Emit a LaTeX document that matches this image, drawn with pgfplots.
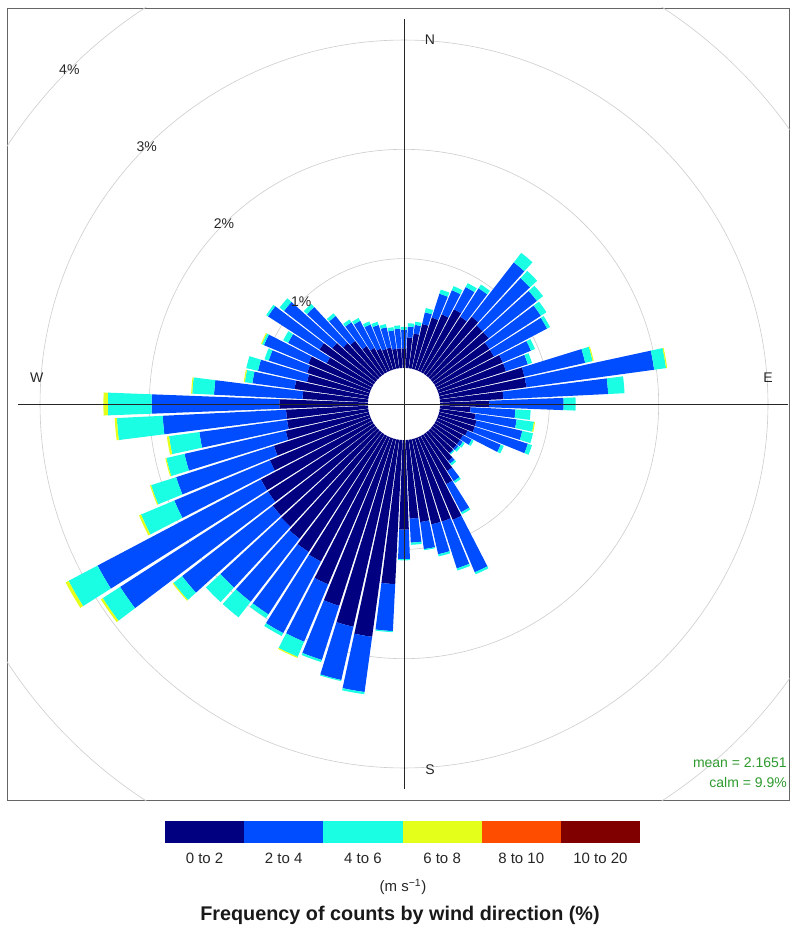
\documentclass[border=0pt]{standalone}
\usepackage{fontspec}
\setmainfont{Liberation Sans}
\usepackage{pgfplots}
\usepackage{pgfplotstable}
\pgfplotsset{compat=1.18}

\definecolor{cA}{HTML}{000080}
\definecolor{cB}{HTML}{004DFF}
\definecolor{cC}{HTML}{1AFFE3}
\definecolor{cD}{HTML}{E3FF1A}
\definecolor{cE}{HTML}{FF4D00}
\definecolor{cF}{HTML}{800000}
\definecolor{txtgreen}{HTML}{2E9A2E}

% cumulative percentages by speed class: a = 0-2, b = 2-4, c = 4-6, d = 6-8
\pgfplotstableread{
dir a b c d
0 0.18 0.35 0.375 0.375
5 0.28 0.38 0.41 0.41
10 0.32 0.40 0.43 0.43
15 0.42 0.53 0.57 0.57
20 0.50 0.73 0.77 0.77
25 0.56 0.80 0.84 0.84
30 0.65 0.88 0.92 0.92
35 0.62 0.93 0.97 0.97
40 0.68 1.31 1.42 1.42
45 0.65 1.24 1.33 1.33
50 0.65 1.21 1.28 1.28
55 0.60 1.16 1.22 1.22
60 0.60 1.15 1.18 1.18
65 0.65 0.93 0.97 0.97
70 0.65 0.86 0.90 0.90
75 0.80 1.37 1.44 1.45
80 0.80 1.98 2.09 2.10
85 0.58 1.54 1.69 1.69
90 0.45 1.13 1.24 1.24
95 0.28 0.69 0.83 0.83
100 0.33 0.71 0.87 0.88
105 0.35 0.78 0.88 0.88
110 0.35 0.86 0.90 0.90
115 0.30 0.63 0.66 0.66
120 0.28 0.37 0.39 0.39
125 0.28 0.31 0.33 0.33
130 0.28 0.30 0.32 0.32
135 0.28 0.29 0.30 0.30
140 0.33 0.36 0.38 0.38
145 0.40 0.51 0.53 0.53
150 0.50 0.79 0.81 0.81
155 0.82 1.34 1.36 1.36
160 0.80 1.25 1.27 1.27
165 0.80 1.08 1.10 1.10
170 0.76 1.01 1.02 1.02
175 0.72 0.94 0.96 0.96
180 0.82 1.09 1.10 1.10
185 1.32 1.75 1.76 1.76
190 1.82 2.33 2.35 2.35
195 1.76 2.26 2.27 2.27
200 1.61 2.13 2.15 2.15
205 1.46 2.03 2.18 2.19
210 1.30 2.04 2.07 2.07
215 1.28 1.96 2.00 2.00
220 1.23 1.96 2.14 2.14
225 1.20 1.96 2.14 2.14
230 1.19 2.24 2.34 2.35
235 1.15 2.76 2.95 2.97
240 1.15 2.84 3.14 3.17
245 1.00 1.95 2.28 2.30
250 0.92 1.86 2.10 2.11
255 0.78 1.73 1.90 1.91
260 0.75 1.56 1.84 1.86
265 0.75 1.88 2.30 2.32
270 0.81 1.98 2.38 2.42
275 0.60 1.41 1.61 1.62
280 0.68 1.07 1.14 1.15
285 0.58 1.04 1.15 1.15
290 0.60 0.97 1.01 1.01
295 0.62 1.06 1.08 1.09
300 0.47 0.87 0.92 0.92
305 0.59 1.15 1.17 1.17
310 0.50 1.06 1.11 1.11
315 0.43 0.88 0.92 0.92
320 0.40 0.69 0.72 0.72
325 0.30 0.56 0.59 0.59
330 0.25 0.53 0.56 0.56
335 0.22 0.46 0.49 0.49
340 0.20 0.43 0.46 0.46
345 0.20 0.39 0.42 0.42
350 0.18 0.35 0.38 0.38
355 0.18 0.36 0.39 0.39
}\windtable

\def\off{0.33}
\def\hw{2.2}

\newcommand\addpt[2]{%
  \pgfmathsetmacro\wrX{(#2)*sin(#1)}%
  \pgfmathsetmacro\wrY{(#2)*cos(#1)}%
  \xdef\coords{\coords (\wrX,\wrY)}}

\newcommand\seg[4]{%
  \ifdim #3pt>#2pt
    \pgfmathsetmacro\ra{#2+\off}%
    \pgfmathsetmacro\rb{#3+\off}%
    \gdef\coords{}%
    \addpt{#1-\hw}{\ra}\addpt{#1-\hw/2}{\ra}\addpt{#1}{\ra}\addpt{#1+\hw/2}{\ra}\addpt{#1+\hw}{\ra}%
    \addpt{#1+\hw}{\rb}\addpt{#1+\hw/2}{\rb}\addpt{#1}{\rb}\addpt{#1-\hw/2}{\rb}\addpt{#1-\hw}{\rb}%
    \edef\cmd{\noexpand\addplot[fill=#4,draw=none,forget plot] coordinates {\coords};}%
    \cmd
  \fi}

\begin{document}
\begin{tikzpicture}
\path[use as bounding box] (0pt,0pt) rectangle (790pt,-925pt);
\begin{axis}[
  at={(7pt,-800pt)}, anchor=south west,
  scale only axis, width=782.5pt, height=792pt,
  xmin=-3.6322, xmax=3.5270, ymin=-3.6231, ymax=3.6231,
  xtick=\empty, ytick=\empty,
  axis line style={draw=black!60, line width=0.8pt},
]
% grid circles
\draw[black!20, line width=0.6pt] (axis cs:0,0) circle[radius=1.33];
\draw[black!20, line width=0.6pt] (axis cs:0,0) circle[radius=2.33];
\draw[black!20, line width=0.6pt] (axis cs:0,0) circle[radius=3.33];
\draw[black!20, line width=0.6pt] (axis cs:0,0) circle[radius=4.33];
% bars
\pgfplotsforeachungrouped \i in {0,...,71}{%
  \pgfplotstablegetelem{\i}{dir}\of\windtable \let\wdir\pgfplotsretval
  \pgfplotstablegetelem{\i}{a}\of\windtable \let\va\pgfplotsretval
  \pgfplotstablegetelem{\i}{b}\of\windtable \let\vb\pgfplotsretval
  \pgfplotstablegetelem{\i}{c}\of\windtable \let\vc\pgfplotsretval
  \pgfplotstablegetelem{\i}{d}\of\windtable \let\vd\pgfplotsretval
  \seg{\wdir}{0}{\va}{cA}%
  \seg{\wdir}{\va}{\vb}{cB}%
  \seg{\wdir}{\vb}{\vc}{cC}%
  \seg{\wdir}{\vc}{\vd}{cD}%
}
% cross lines
\draw[black!85, line width=0.8pt] (axis cs:-3.53,0) -- (axis cs:3.51,0);
\draw[black!85, line width=0.8pt] (axis cs:0,-3.52) -- (axis cs:0,3.52);
% labels
\node[font=\fontsize{14}{14}\selectfont, text=black!85] at (axis cs:0.238,3.33) {N};
\node[font=\fontsize{14}{14}\selectfont, text=black!85] at (axis cs:3.33,0.238) {E};
\node[font=\fontsize{14}{14}\selectfont, text=black!85] at (axis cs:0.238,-3.35) {S};
\node[font=\fontsize{14}{14}\selectfont, text=black!85] at (axis cs:-3.36,0.238) {W};
\node[font=\fontsize{14}{14}\selectfont, text=black!85] at (axis cs:-0.9405,0.9405) {1\%};
\node[font=\fontsize{14}{14}\selectfont, text=black!85] at (axis cs:-1.6476,1.6476) {2\%};
\node[font=\fontsize{14}{14}\selectfont, text=black!85] at (axis cs:-2.3547,2.3547) {3\%};
\node[font=\fontsize{14}{14}\selectfont, text=black!85] at (axis cs:-3.0618,3.0618) {4\%};
\node[anchor=base east, text=txtgreen, font=\fontsize{14}{14}\selectfont, inner sep=0pt] at (axis cs:3.504,-3.330) {mean = 2.1651};
\node[anchor=base east, text=txtgreen, font=\fontsize{14}{14}\selectfont, inner sep=0pt] at (axis cs:3.504,-3.513) {calm = 9.9\%};
\end{axis}
% legend (colour key)
\def\kw{79.1667}
\foreach \c/\lab [count=\k from 0] in {cA/0 to 2, cB/2 to 4, cC/4 to 6, cD/6 to 8, cE/8 to 10, cF/10 to 20}{
  \fill[\c] (165pt+\k*\kw pt,-821pt) rectangle (165pt+\k*\kw pt+\kw pt,-843pt);
  \node[font=\fontsize{15}{15}\selectfont, text=black!85] at (165pt+\k*\kw pt+0.5*\kw pt,-858pt) {\lab};
}
\node[font=\fontsize{15}{15}\selectfont, text=black!85] at (403pt,-887pt) {(m s\textsuperscript{−1})};
\node[font=\fontsize{19.8}{20}\selectfont\bfseries, text=black!90] at (400pt,-915pt) {Frequency of counts by wind direction (\%)};
\end{tikzpicture}
\end{document}
